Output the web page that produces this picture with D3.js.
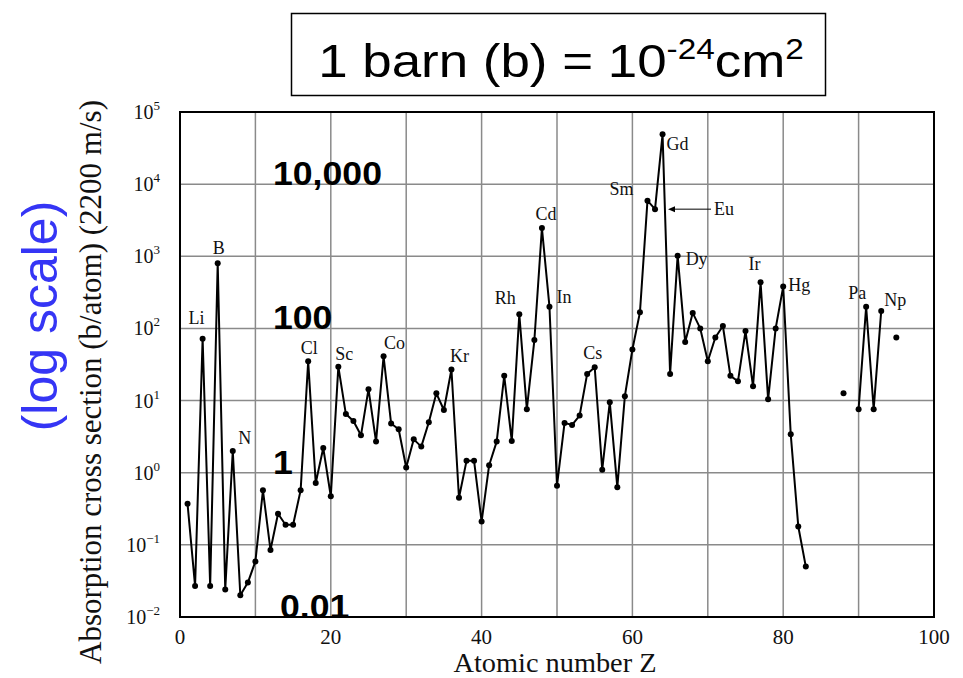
<!DOCTYPE html>
<html>
<head>
<meta charset="utf-8">
<script src="https://cdn.jsdelivr.net/npm/d3@7"></script>
<style>
  body { margin: 0; background: #fff; }
  svg { display: block; }
  .serif { font-family: "Liberation Serif", "DejaVu Serif", serif; fill: #111; }
  .sans { font-family: "Liberation Sans", Arial, sans-serif; }
</style>
</head>
<body>
<script>
//values: cross section (b/atom) for Z = 1..83, joined by a line
var mainZ = d3.range(1, 84);
var mainSigma = [
    0.37, 0.027, 72, 0.027, 800, 0.024, 2.0, 0.02, 0.030, 0.059,
    0.57, 0.085, 0.27, 0.19, 0.19, 0.57, 35, 0.72, 2.2, 0.47,
    29.5, 6.5, 5.2, 3.3, 14.4, 2.7, 41, 4.8, 4.0, 1.18,
    2.9, 2.3, 5.0, 12.6, 7.4, 27, 0.45, 1.46, 1.46, 0.21,
    1.27, 2.7, 22, 2.76, 157, 7.6, 69, 2460, 200, 0.66,
    4.9, 4.6, 6.2, 23.4, 29, 1.1, 9.5, 0.63, 11.5, 51,
    167, 5900, 4500, 49000, 23.4, 1020, 65, 164, 100, 35,
    75, 108, 22, 18.5, 92, 15.8, 435, 10.4, 100, 380,
    3.4, 0.18, 0.05
];
//actinide segment (Th..Np)
var actZ = [90, 91, 92, 93];
var actSigma = [7.6, 200, 7.6, 175];
//lone points (Ra, Am)
var loneZ = [88, 95];
var loneSigma = [12.6, 75];

//element labels
var labelZ = [3, 5, 7, 17, 21, 27, 36, 45, 48, 49, 55, 62, 63, 64, 66, 77, 80, 91, 93];
var labelNames = ["Li", "B", "N", "Cl", "Sc", "Co", "Kr", "Rh", "Cd", "In", "Cs", "Sm", "Eu", "Gd", "Dy", "Ir", "Hg", "Pa", "Np"];

//axis ticks
var xTicks = [0, 20, 40, 60, 80, 100];
var xGrid = d3.range(10, 100, 10);
var yExponents = [5, 4, 3, 2, 1, 0, -1, -2];

//big bold overlay labels (value, placed on the decade)
var bigValues = [10000, 100, 1, 0.01];
var bigTexts = ["10,000", "100", "1", "0.01"];

(function(){

var width = 963, height = 678;
var pLeft = 180, pRight = 934, pTop = 112, pBottom = 617;

var svg = d3.select("body").append("svg")
    .attr("width", width)
    .attr("height", height);

var x = d3.scaleLinear().domain([0, 100]).range([pLeft, pRight]);
var y = d3.scaleLog().domain([1e-2, 1e5]).range([pBottom, pTop]);

//title box
svg.append("rect")
    .attr("x", 291.5).attr("y", 13.5)
    .attr("width", 534).attr("height", 82)
    .attr("fill", "#fff").attr("stroke", "#000").attr("stroke-width", 1.5);

var title = svg.append("text")
    .attr("class", "sans")
    .attr("transform", "translate(561,77) scale(1.15,1)")
    .attr("text-anchor", "middle")
    .style("font-size", "46px");
title.append("tspan").text("1 barn (b) = 10");
title.append("tspan").attr("dy", -18).style("font-size", "29px").text("-24");
title.append("tspan").attr("dy", 18).text("cm");
title.append("tspan").attr("dy", -18).style("font-size", "29px").text("2");

//grid lines
svg.selectAll(".vgrid")
    .data(xGrid)
    .enter()
    .append("line")
    .attr("class", "vgrid")
    .attr("x1", function(d){ return x(d); })
    .attr("x2", function(d){ return x(d); })
    .attr("y1", pTop).attr("y2", pBottom)
    .attr("stroke", "#8a8a8a").attr("stroke-width", 1.5);

svg.selectAll(".hgrid")
    .data(yExponents.slice(1, -1))
    .enter()
    .append("line")
    .attr("class", "hgrid")
    .attr("x1", pLeft).attr("x2", pRight)
    .attr("y1", function(d){ return y(Math.pow(10, d)); })
    .attr("y2", function(d){ return y(Math.pow(10, d)); })
    .attr("stroke", "#8a8a8a").attr("stroke-width", 1.5);

//frame
svg.append("rect")
    .attr("x", pLeft).attr("y", pTop)
    .attr("width", pRight - pLeft).attr("height", pBottom - pTop)
    .attr("fill", "none").attr("stroke", "#000").attr("stroke-width", 2);

//y tick labels 10^n
var yLabels = svg.selectAll(".ylab")
    .data(yExponents)
    .enter()
    .append("text")
    .attr("class", "serif ylab")
    .attr("x", 160)
    .attr("y", function(d){ return y(Math.pow(10, d)) + 7; })
    .attr("text-anchor", "end")
    .style("font-size", "20px");
yLabels.append("tspan").text("10");
yLabels.append("tspan")
    .attr("dy", -9)
    .style("font-size", "13px")
    .text(function(d){ return d < 0 ? "\u2212" + (-d) : d; });

//x tick labels
svg.selectAll(".xlab")
    .data(xTicks)
    .enter()
    .append("text")
    .attr("class", "serif xlab")
    .attr("x", function(d){ return x(d); })
    .attr("y", 644)
    .attr("text-anchor", "middle")
    .style("font-size", "21px")
    .text(function(d){ return d; });

//axis titles
svg.append("text")
    .attr("class", "serif")
    .attr("transform", "translate(101,382) rotate(-90)")
    .attr("text-anchor", "middle")
    .style("font-size", "31px")
    .text("Absorption cross section (b/atom)  (2200 m/s)");

svg.append("text")
    .attr("class", "serif")
    .attr("transform", "translate(555,672) scale(1.05,1)")
    .attr("text-anchor", "middle")
    .style("font-size", "27px")
    .text("Atomic number Z");

svg.append("text")
    .attr("class", "sans")
    .attr("transform", "translate(57,316) rotate(-90)")
    .attr("text-anchor", "middle")
    .style("font-size", "50px")
    .attr("fill", "#3535f5")
    .text("(log scale)");

//big bold value labels
svg.selectAll(".big")
    .data(bigValues)
    .enter()
    .append("text")
    .attr("class", "sans big")
    .attr("transform", function(d){
        return "translate(" + (d === 0.01 ? 280 : 273) + "," + (y(d) + 1) + ") scale(1.08,1)";
    })
    .style("font-size", "33px")
    .style("font-weight", "bold")
    .attr("fill", "#000")
    .text(function(d, i){ return bigTexts[i]; });

//data lines and markers
var line = d3.line()
    .x(function(d){ return x(d[0]); })
    .y(function(d){ return y(d[1]); });

var mainPts = mainZ.map(function(z, i){ return [z, mainSigma[i]]; });
var actPts = actZ.map(function(z, i){ return [z, actSigma[i]]; });
var lonePts = loneZ.map(function(z, i){ return [z, loneSigma[i]]; });

[mainPts, actPts].forEach(function(pts){
    svg.append("path")
        .datum(pts)
        .attr("d", line)
        .attr("fill", "none")
        .attr("stroke", "#000")
        .attr("stroke-width", 2)
        .attr("stroke-linejoin", "round");
});

svg.selectAll(".dot")
    .data(mainPts.concat(actPts, lonePts))
    .enter()
    .append("circle")
    .attr("class", "dot")
    .attr("cx", function(d){ return x(d[0]); })
    .attr("cy", function(d){ return y(d[1]); })
    .attr("r", 3)
    .attr("fill", "#000");

//element name placement: dx, dy, anchor
var labelPlace = {
    Li: [-6, -15, "middle"], B: [1, -9, "middle"], N: [12, -7, "middle"],
    Cl: [1, -7, "middle"], Sc: [6, -7, "middle"], Co: [11, -7, "middle"],
    Kr: [8, -7, "middle"], Rh: [-14, -10, "middle"], Cd: [4, -8, "middle"],
    In: [7, -4, "start"], Cs: [-2, -8, "middle"], Sm: [-14, -6, "end"],
    Eu: [59, 6, "start"], Gd: [4, 16, "start"], Dy: [8, 9, "start"],
    Ir: [-6, -12, "middle"], Hg: [5, 4, "start"], Pa: [0, -8, "end"],
    Np: [3, -5, "start"]
};

var sigmaAt = function(z){
    var i = mainZ.indexOf(z);
    if (i >= 0) return mainSigma[i];
    return actSigma[actZ.indexOf(z)];
};

svg.selectAll(".elab")
    .data(labelZ)
    .enter()
    .append("text")
    .attr("class", "serif elab")
    .attr("x", function(d, i){ return x(d) + labelPlace[labelNames[i]][0]; })
    .attr("y", function(d, i){ return y(sigmaAt(d)) + labelPlace[labelNames[i]][1]; })
    .attr("text-anchor", function(d, i){ return labelPlace[labelNames[i]][2]; })
    .style("font-size", "18px")
    .text(function(d, i){ return labelNames[i]; });

//arrow pointing at Eu
var euX = x(63), euY = y(sigmaAt(63));
svg.append("line")
    .attr("x1", euX + 56).attr("x2", euX + 16)
    .attr("y1", euY).attr("y2", euY)
    .attr("stroke", "#000").attr("stroke-width", 1);
svg.append("path")
    .attr("d", "M" + (euX + 13) + "," + euY + "l7,-3l0,6z")
    .attr("fill", "#000");

})();
</script>
</body>
</html>
